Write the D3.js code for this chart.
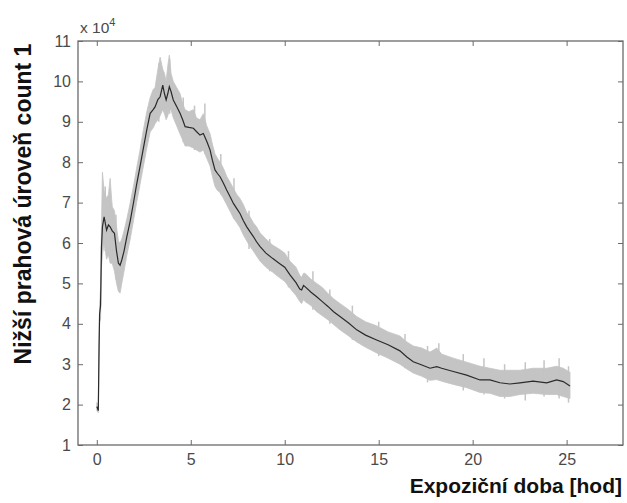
<!DOCTYPE html>
<html><head><meta charset="utf-8">
<script src="https://cdn.jsdelivr.net/npm/d3@7/dist/d3.min.js"></script>
<style>body{margin:0;background:#fff}svg{display:block}</style>
</head><body><svg id="c" width="627" height="503"></svg>
<script>
// time [hours]
const time = [0.00,0.08,0.12,0.15,0.20,0.25,0.30,0.39,0.52,0.62,0.71,0.82,0.94,1.05,1.15,1.24,1.33,1.45,1.60,1.78,1.95,2.12,2.30,2.48,2.66,2.84,3.00,3.10,3.25,3.37,3.51,3.60,3.69,3.78,3.86,3.95,4.07,4.25,4.43,4.57,4.70,4.90,5.14,5.30,5.49,5.67,5.85,6.03,6.15,6.29,6.42,6.56,6.74,6.91,7.10,7.27,7.45,7.62,7.80,7.98,8.15,8.33,8.50,8.69,9.00,9.35,9.70,10.00,10.28,10.60,10.80,10.90,11.00,11.08,11.40,11.70,12.00,12.30,12.60,12.94,13.40,13.83,14.30,14.89,15.50,16.13,16.50,16.84,17.30,17.73,18.09,18.35,18.97,19.68,20.39,20.92,21.45,21.98,22.52,23.22,23.94,24.47,24.82,25.18];
// mean count (x 10^4)
const meanVal = [1.95,1.85,3.40,4.25,4.45,5.90,6.40,6.65,6.32,6.45,6.40,6.30,6.24,5.80,5.50,5.45,5.58,5.80,6.16,6.55,6.99,7.45,7.89,8.35,8.80,9.21,9.30,9.37,9.55,9.62,9.91,9.70,9.54,9.70,9.87,9.75,9.54,9.38,9.21,9.05,8.88,8.86,8.84,8.76,8.67,8.71,8.52,8.30,8.05,7.81,7.72,7.64,7.48,7.31,7.14,6.98,6.85,6.73,6.55,6.40,6.28,6.16,6.03,5.91,5.75,5.62,5.50,5.40,5.21,5.02,4.86,4.84,4.95,4.92,4.78,4.67,4.55,4.43,4.30,4.18,4.02,3.85,3.72,3.60,3.48,3.33,3.18,3.06,2.98,2.90,2.94,2.90,2.82,2.73,2.61,2.61,2.54,2.51,2.54,2.58,2.54,2.61,2.57,2.46];
// upper envelope (x 10^4)
const upperVal = [2.05,1.95,3.60,4.45,4.90,6.50,7.75,7.30,7.10,7.20,7.60,6.90,6.80,6.40,6.05,6.00,6.10,6.30,6.60,7.00,7.40,7.85,8.30,8.80,9.25,9.60,9.80,9.85,10.30,10.60,10.30,10.20,10.00,10.40,10.65,10.20,10.00,9.85,9.70,9.45,9.30,9.25,9.30,9.10,9.05,9.20,8.90,8.70,8.45,8.20,8.10,8.00,7.85,7.65,7.50,7.35,7.20,7.10,6.95,6.75,6.65,6.50,6.40,6.25,6.10,5.95,5.85,5.75,5.55,5.40,5.20,5.15,5.25,5.25,5.10,5.00,4.90,4.75,4.62,4.50,4.35,4.18,4.05,3.95,3.80,3.70,3.55,3.45,3.40,3.30,3.40,3.25,3.15,3.05,2.95,2.90,2.85,2.85,2.85,2.90,2.90,2.95,2.90,2.80];
// lower envelope (x 10^4)
const lowerVal = [1.85,1.80,3.20,4.05,4.10,5.40,5.70,6.00,5.60,5.70,5.50,5.50,5.30,5.00,4.80,4.76,5.00,5.30,5.70,6.10,6.55,7.00,7.45,7.90,8.35,8.75,8.85,8.95,9.05,9.15,9.30,9.20,9.05,9.15,9.30,9.30,9.10,8.90,8.70,8.55,8.40,8.40,8.35,8.30,8.25,8.30,8.10,7.90,7.65,7.40,7.30,7.25,7.10,6.95,6.78,6.62,6.50,6.38,6.20,6.05,5.92,5.80,5.68,5.55,5.40,5.28,5.15,5.05,4.88,4.70,4.55,4.50,4.60,4.55,4.45,4.30,4.20,4.10,3.98,3.85,3.70,3.55,3.42,3.28,3.15,3.00,2.88,2.78,2.70,2.60,2.62,2.58,2.50,2.42,2.30,2.28,2.20,2.20,2.25,2.28,2.25,2.25,2.20,2.15];
// isolated noise spikes: [time, low, high]
const spikeT  = [0.45,0.78,1.02,3.30,3.88,4.60,5.20,5.75,6.60,7.30,8.10,9.20,10.20,11.50,12.40,13.60,15.00,16.40,17.60,18.20,19.50,20.60,21.70,22.80,23.80,24.60,25.10];
const spikeLo = [5.80,5.60,5.10,9.00,9.20,8.50,8.30,8.20,7.20,6.60,5.85,5.30,4.90,4.35,4.00,3.60,3.20,2.90,2.55,2.60,2.35,2.25,2.15,2.10,2.20,2.15,2.05];
const spikeHi = [7.40,7.00,6.70,10.45,10.55,9.60,9.40,9.45,8.20,7.60,6.80,6.10,5.80,5.30,4.85,4.45,4.05,3.75,3.45,3.52,3.25,3.15,3.00,3.05,3.10,3.15,2.95];
const xTicks = [0,5,10,15,20,25];
const yTicks = [1,2,3,4,5,6,7,8,9,10,11];

const svg = d3.select('#c');
const L=78, R=623, T=41, B=445;
const x = d3.scaleLinear().domain([-1,28]).range([L,R]);
const y = d3.scaleLinear().domain([1,11]).range([B,T]);
const pts = time.map((t,i)=>({t, m:meanVal[i], u:upperVal[i], l:lowerVal[i]}));

const band = d3.area().x(d=>x(d.t)).y0(d=>y(d.l)).y1(d=>y(d.u));
svg.append('path').datum(pts).attr('d',band).attr('fill','#c4c4c4').attr('stroke','#c4c4c4').attr('stroke-width',0.8);
svg.append('g').selectAll('line').data(spikeT).join('line')
  .attr('x1',(d)=>x(d)).attr('x2',(d)=>x(d))
  .attr('y1',(d,i)=>y(spikeLo[i])).attr('y2',(d,i)=>y(spikeHi[i]))
  .attr('stroke','#c4c4c4').attr('stroke-width',1.5);
svg.append('path').datum(pts).attr('d',d3.line().x(d=>x(d.t)).y(d=>y(d.m)))
  .attr('fill','none').attr('stroke','#2a2a2a').attr('stroke-width',1.2);

const ac='#6a6a6a', tc='#4a4a4a';
const font='"Liberation Sans", Arial, sans-serif';
function styleAxis(g){g.select('.domain').remove();g.selectAll('line').attr('stroke',ac);g.selectAll('text').attr('fill',tc).style('font-family',font).style('font-size','16px');}
svg.append('g').attr('transform',`translate(0,${B})`).call(d3.axisBottom(x).tickValues(xTicks).tickSizeInner(-5).tickSizeOuter(0).tickPadding(9)).call(styleAxis);
svg.append('g').attr('transform',`translate(0,${T})`).call(d3.axisTop(x).tickValues(xTicks).tickSizeInner(-5).tickSizeOuter(0).tickFormat('')).call(styleAxis);
svg.append('g').attr('transform',`translate(${L},0)`).call(d3.axisLeft(y).tickValues(yTicks).tickSizeInner(-5).tickSizeOuter(0).tickPadding(7)).call(styleAxis);
svg.append('g').attr('transform',`translate(${R},0)`).call(d3.axisRight(y).tickValues(yTicks).tickSizeInner(-5).tickSizeOuter(0).tickFormat('')).call(styleAxis);
svg.append('rect').attr('x',L).attr('y',T).attr('width',R-L).attr('height',B-T).attr('fill','none').attr('stroke',ac).attr('stroke-width',1.3);

const ex = svg.append('text').attr('x',80).attr('y',33).attr('fill',tc).style('font-family',font).style('font-size','15.5px');
ex.append('tspan').text('x 10');
ex.append('tspan').attr('dy',-7).style('font-size','11px').text('4');

svg.append('text').attr('transform','translate(31,204) rotate(-90)').attr('text-anchor','middle')
  .style('font-family',font).style('font-size','23px').style('font-weight','bold').attr('fill','#111')
  .text('Nižší prahová úroveň count 1');
svg.append('text').attr('x',622).attr('y',493).attr('text-anchor','end')
  .style('font-family',font).style('font-size','21px').style('font-weight','bold').attr('fill','#111')
  .text('Expoziční doba [hod]');
</script></body></html>
